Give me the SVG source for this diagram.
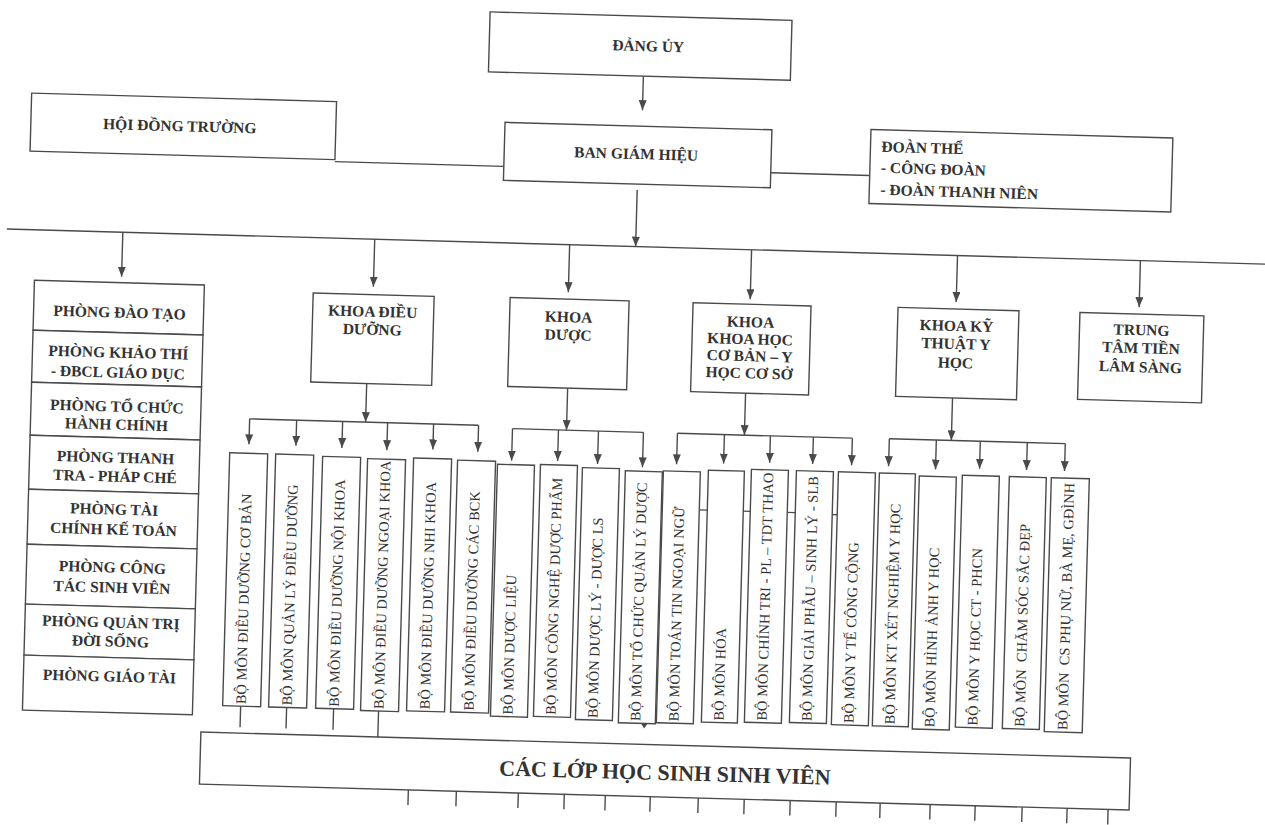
<svg xmlns="http://www.w3.org/2000/svg" width="1265" height="825" viewBox="0 0 1265 825">
<defs>
<style>
.box{fill:#fff;stroke:#4a4a4a;stroke-width:1.4}
.ln{fill:none;stroke:#4a4a4a;stroke-width:1.4}
.arr{marker-end:url(#ah)}
.lb{font-family:"Liberation Serif","Times New Roman",serif;font-weight:bold;font-size:15.5px;fill:#333;text-anchor:middle}
.ls{font-family:"Liberation Serif","Times New Roman",serif;font-weight:bold;font-size:15.5px;fill:#333}
.vt{font-family:"Liberation Serif","Times New Roman",serif;font-size:14.5px;fill:#333;white-space:pre}
.big{font-size:22px}
</style>
<marker id="ah" markerWidth="10" markerHeight="8" refX="10" refY="4" orient="auto" markerUnits="userSpaceOnUse">
<path d="M0,0 L10,4 L0,8 Z" fill="#4a4a4a"/>
</marker>
</defs>
<rect width="1265" height="825" fill="#fff"/>
<g transform="rotate(1.6 632 412)">
<g id="connectors">
<path class="ln arr" d="M634,76 V110"/>
<path class="ln" d="M328,170 H497"/>
<path class="ln" d="M764,169 H863"/>
<path class="ln arr" d="M631,190 V246.5"/>
<path class="ln" d="M2,246.5 H1285"/>
<path class="ln arr" d="M118,246.5 V291"/>
<path class="ln arr" d="M370,246.5 V294"/>
<path class="ln arr" d="M565,246.5 V294"/>
<path class="ln arr" d="M747,246.5 V296"/>
<path class="ln arr" d="M953,246.5 V293"/>
<path class="ln arr" d="M1136,246.5 V293"/>
<path class="ln arr" d="M366,391 V429.5"/>
<path class="ln" d="M250,429.5 H479"/>
<path class="ln arr" d="M250,429.5 V455"/>
<path class="ln arr" d="M297,429.5 V455"/>
<path class="ln arr" d="M343,429.5 V456"/>
<path class="ln arr" d="M388,429.5 V457"/>
<path class="ln arr" d="M434,429.5 V455"/>
<path class="ln arr" d="M479,429.5 V456"/>
<path class="ln arr" d="M567,390 V432"/>
<path class="ln" d="M513,432 H644"/>
<path class="ln arr" d="M513,432 V464"/>
<path class="ln arr" d="M559,432 V463"/>
<path class="ln arr" d="M599,432 V465"/>
<path class="ln arr" d="M644,432 V467"/>
<path class="ln arr" d="M745,390 V432"/>
<path class="ln" d="M678,432 H853"/>
<path class="ln arr" d="M678,432 V463"/>
<path class="ln arr" d="M725,432 V461"/>
<path class="ln arr" d="M771,432 V459"/>
<path class="ln arr" d="M814,432 V459"/>
<path class="ln arr" d="M853,432 V459"/>
<path class="ln arr" d="M952,389 V431.5"/>
<path class="ln" d="M890,431.5 H1066"/>
<path class="ln arr" d="M890,431.5 V459"/>
<path class="ln arr" d="M937,431.5 V461"/>
<path class="ln arr" d="M981,431.5 V459"/>
<path class="ln arr" d="M1028,431.5 V459"/>
<path class="ln arr" d="M1066,431.5 V459"/>
<path class="ln" d="M702,508 H710 M746,508 H753 M790,508 H798 M835,509 H840"/>
<path class="ln" d="M249,717 V738 M295,717 V738 M342,717 V738 M387,717 V744"/>
<path d="M650,723.5 L656,723.5 L653,728 Z" fill="#4a4a4a"/>
<path class="ln" d="M419,796 V811 M467,796 V811 M529,796 V811 M575,796 V811 M616,796 V811 M661,796 V811 M709,796 V811 M755,796 V811 M801,796 V811 M847,796 V811 M891,796 V811 M941,796 V811 M986,796 V811 M1033,796 V811 M1078,796 V811 M1119,796 V811"/>
</g>
<g id="dang-uy"><rect class="box" x="479" y="16" width="302" height="60"/><text class="lb" x="638" y="51">ĐẢNG ỦY</text></g>
<g id="hoi-dong-truong"><rect class="box" x="23" y="110" width="305" height="58"/><text class="lb" x="172" y="144">HỘI ĐỒNG TRƯỜNG</text></g>
<g id="ban-giam-hieu"><rect class="box" x="497" y="126" width="267" height="58"/><text class="lb" x="629" y="159">BAN GIÁM HIỆU</text></g>
<g id="doan-the"><rect class="box" x="863" y="123" width="302" height="74"/><text class="ls" x="874" y="145">ĐOÀN THỂ</text><text class="ls" x="874" y="166">- CÔNG ĐOÀN</text><text class="ls" x="874" y="188">- ĐOÀN THANH NIÊN</text></g>
<g id="phong-dao-tao"><rect class="box" x="31" y="297" width="170" height="50"/><text class="lb" x="117" y="332">PHÒNG ĐÀO TẠO</text></g>
<g id="phong-khao-thi"><rect class="box" x="31" y="347" width="170" height="52"/><text class="lb" x="117" y="372">PHÒNG KHẢO THÍ</text><text class="lb" x="117" y="392">- ĐBCL GIÁO DỤC</text></g>
<g id="phong-to-chuc"><rect class="box" x="31" y="399" width="170" height="53"/><text class="lb" x="117" y="426">PHÒNG TỔ CHỨC</text><text class="lb" x="117" y="444">HÀNH CHÍNH</text></g>
<g id="phong-thanh-tra"><rect class="box" x="31" y="452" width="170" height="54"/><text class="lb" x="117" y="477">PHÒNG THANH</text><text class="lb" x="117" y="496">TRA - PHÁP CHÉ</text></g>
<g id="phong-tai-chinh"><rect class="box" x="31" y="506" width="170" height="55"/><text class="lb" x="117" y="529">PHÒNG TÀI</text><text class="lb" x="117" y="549">CHÍNH KẾ TOÁN</text></g>
<g id="phong-cong-tac"><rect class="box" x="31" y="561" width="170" height="60"/><text class="lb" x="117" y="587">PHÒNG CÔNG</text><text class="lb" x="117" y="607">TÁC SINH VIÊN</text></g>
<g id="phong-quan-tri"><rect class="box" x="31" y="621" width="170" height="51"/><text class="lb" x="117" y="642">PHÒNG QUẢN TRỊ</text><text class="lb" x="117" y="661">ĐỜI SỐNG</text></g>
<g id="phong-giao-tai"><rect class="box" x="31" y="672" width="170" height="55"/><text class="lb" x="117" y="696">PHÒNG GIÁO TÀI</text></g>
<g id="khoa-dieu-duong"><rect class="box" x="310" y="302" width="121" height="89"/><text class="lb" x="370" y="324">KHOA ĐIỀU</text><text class="lb" x="370" y="342">DƯỠNG</text></g>
<g id="khoa-duoc"><rect class="box" x="507" y="301" width="119" height="89"/><text class="lb" x="566" y="324">KHOA</text><text class="lb" x="566" y="342">DƯỢC</text></g>
<g id="khoa-khcb"><rect class="box" x="690" y="301" width="118" height="89"/><text class="lb" x="748" y="324">KHOA</text><text class="lb" x="748" y="341">KHOA HỌC</text><text class="lb" x="748" y="358">CƠ BẢN – Y</text><text class="lb" x="748" y="375">HỌC CƠ SỞ</text></g>
<g id="khoa-ktyh"><rect class="box" x="895" y="300" width="121" height="89"/><text class="lb" x="954" y="322">KHOA KỸ</text><text class="lb" x="954" y="340">THUẬT Y</text><text class="lb" x="954" y="359">HỌC</text></g>
<g id="trung-tam"><rect class="box" x="1077" y="300" width="124" height="87"/><text class="lb" x="1139" y="321">TRUNG</text><text class="lb" x="1139" y="339">TÂM TIỀN</text><text class="lb" x="1139" y="358">LÂM SÀNG</text></g>
<g id="bm-01"><rect class="box" x="231" y="464" width="38" height="253"/><text class="vt" transform="translate(254,715) rotate(-90)">BỘ MÔN ĐIỀU DƯỠNG CƠ BẢN</text></g>
<g id="bm-02"><rect class="box" x="277" y="464" width="38" height="253"/><text class="vt" transform="translate(300,715) rotate(-90)">BỘ MÔN QUẢN LÝ ĐIỀU DƯỠNG</text></g>
<g id="bm-03"><rect class="box" x="324" y="465" width="38" height="252"/><text class="vt" transform="translate(347,715) rotate(-90)">BỘ MÔN ĐIỀU DƯỠNG NỘI KHOA</text></g>
<g id="bm-04"><rect class="box" x="369" y="466" width="38" height="252"/><text class="vt" transform="translate(392,716) rotate(-90)">BỘ MÔN ĐIỀU DƯỠNG NGOẠI KHOA</text></g>
<g id="bm-05"><rect class="box" x="415" y="464" width="38" height="253"/><text class="vt" transform="translate(438,715) rotate(-90)">BỘ MÔN ĐIỀU DƯỠNG NHI KHOA</text></g>
<g id="bm-06"><rect class="box" x="459" y="465" width="38" height="252"/><text class="vt" transform="translate(482,715) rotate(-90)">BỘ MÔN ĐIỀU DƯỠNG CÁC BCK</text></g>
<g id="bm-07"><rect class="box" x="499" y="468" width="37" height="252"/><text class="vt" transform="translate(521,718) rotate(-90)">BỘ MÔN DƯỢC LIỆU</text></g>
<g id="bm-08"><rect class="box" x="542" y="467" width="37" height="252"/><text class="vt" transform="translate(564,717) rotate(-90)">BỘ MÔN CÔNG NGHỆ DƯỢC PHẨM</text></g>
<g id="bm-09"><rect class="box" x="584" y="469" width="37" height="252"/><text class="vt" transform="translate(606,719) rotate(-90)">BỘ MÔN DƯỢC LÝ - DƯỢC LS</text></g>
<g id="bm-10"><rect class="box" x="627" y="471" width="37" height="252"/><text class="vt" transform="translate(649,721) rotate(-90)">BỘ MÔN TỔ CHỨC QUẢN LÝ DƯỢC</text></g>
<g id="bm-11"><rect class="box" x="665" y="470" width="37" height="252"/><text class="vt" transform="translate(687,720) rotate(-90)">BỘ MÔN TOÁN TIN NGOẠI NGỮ</text></g>
<g id="bm-12"><rect class="box" x="710" y="468" width="36" height="252"/><text class="vt" transform="translate(732,718) rotate(-90)">BỘ MÔN HÓA</text></g>
<g id="bm-13"><rect class="box" x="753" y="466" width="37" height="253"/><text class="vt" transform="translate(775,717) rotate(-90)">BỘ MÔN CHÍNH TRI - PL – TDT THAO</text></g>
<g id="bm-14"><rect class="box" x="798" y="466" width="37" height="252"/><text class="vt" transform="translate(820,716) rotate(-90)">BỘ MÔN GIẢI PHẪU – SINH LÝ - SLB</text></g>
<g id="bm-15"><rect class="box" x="840" y="466" width="37" height="253"/><text class="vt" transform="translate(862,717) rotate(-90)">BỘ MÔN Y TẾ CÔNG CỘNG</text></g>
<g id="bm-16"><rect class="box" x="881" y="466" width="36" height="253"/><text class="vt" transform="translate(903,717) rotate(-90)">BỘ MÔN KT XÉT NGHIỆM Y HỌC</text></g>
<g id="bm-17"><rect class="box" x="921" y="468" width="37" height="253"/><text class="vt" transform="translate(943,719) rotate(-90)">BỘ MÔN HÌNH ẢNH Y HỌC</text></g>
<g id="bm-18"><rect class="box" x="964" y="466" width="37" height="252"/><text class="vt" transform="translate(986,716) rotate(-90)">BỘ MÔN Y HỌC CT - PHCN</text></g>
<g id="bm-19"><rect class="box" x="1011" y="466" width="37" height="252"/><text class="vt" transform="translate(1033,716) rotate(-90)">BỘ MÔN  CHĂM SÓC SẮC ĐẸP</text></g>
<g id="bm-20"><rect class="box" x="1053" y="466" width="38" height="254"/><text class="vt" transform="translate(1076,718) rotate(-90)">BỘ MÔN  CS PHỤ NỮ, BÀ MẸ, GĐÌNH</text></g>
<g id="cac-lop"><rect class="box" x="210" y="744" width="930" height="52"/><text class="lb big" x="675" y="779">CÁC LỚP HỌC SINH SINH VIÊN</text></g>
</g>
</svg>
